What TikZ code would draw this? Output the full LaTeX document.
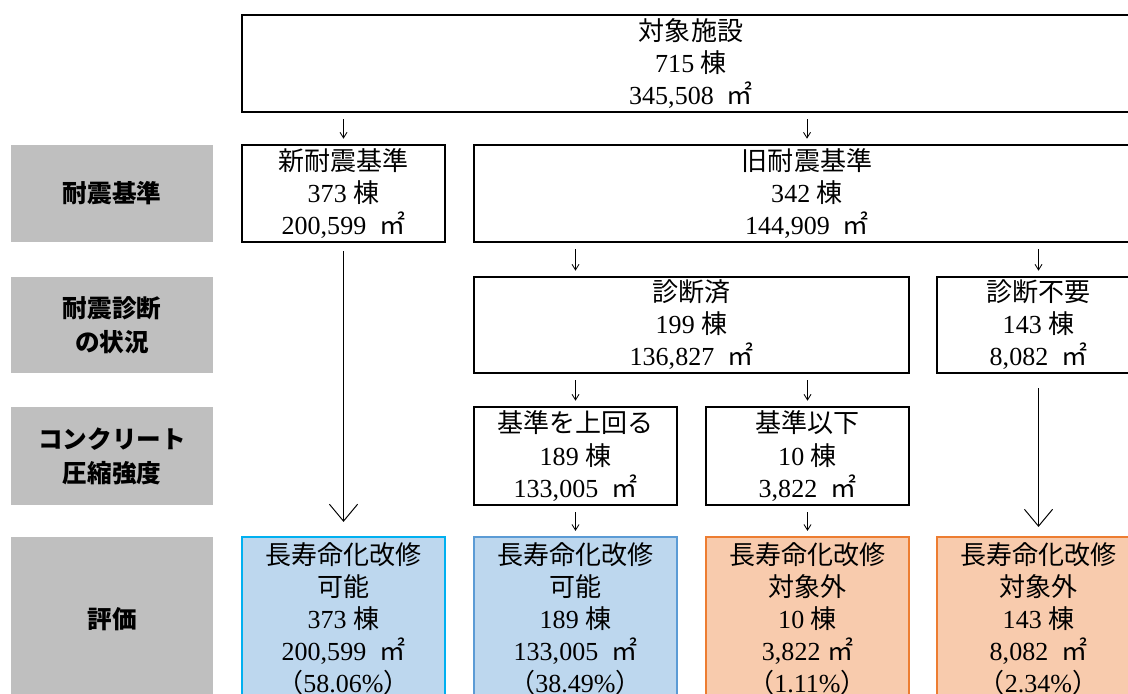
\documentclass[tikz,border=0pt]{standalone}
\usepackage{fontspec}
\setmainfont{Liberation Serif}
\newfontfamily\jpfont{Noto Sans CJK JP}
\newcommand\ja[1]{{\jpfont #1}}
\usetikzlibrary{arrows.meta}
\definecolor{lblgray}{RGB}{191,191,191}
\definecolor{okfill}{RGB}{189,215,238}
\definecolor{okline}{RGB}{0,176,240}
\definecolor{okline2}{RGB}{91,155,213}
\definecolor{ngfill}{RGB}{248,203,173}
\definecolor{ngline}{RGB}{237,125,49}

\begin{document}
\begin{tikzpicture}[x=0.025cm,y=-0.025cm,
    box/.style={draw,line width=1.8pt,align=center,inner sep=0pt,
        font=\fontsize{18.5}{22.8}\selectfont},
    lbl/.style={fill=lblgray,align=center,inner sep=0pt,
        font=\jpfont\bfseries\fontsize{17.5}{24}\selectfont},
    okbox/.style={box,line width=1.5pt,fill=okfill},
    ngbox/.style={box,line width=1.5pt,draw=ngline,fill=ngfill},
    wd/.style={minimum width=#1*0.025cm},
    ht/.style={minimum height=#1*0.025cm},
    sarrow/.style={-{Straight Barb[length=4pt,width=5pt]},line width=0.6pt,
        shorten <=4.3pt,shorten >=3.6pt},
    larrow/.style={-{Straight Barb[length=12pt,width=20pt]},line width=0.7pt}]
            \useasboundingbox (0,0) rectangle (1128,693);
            \clip (0,0) rectangle (1128,693);
            \node[box,wd=898,ht=97] (top) at (691,63.5) {\ja{対象施設}\\715 \ja{棟}\\345,508\ \ \ja{㎡}};
            \node[lbl,wd=202,ht=97] (lkijun) at (112,193.5) {耐震基準};
            \node[box,wd=203,ht=97] (shin) at (343.5,193.5) {\ja{新耐震基準}\\373 \ja{棟}\\200,599\ \ \ja{㎡}};
            \node[box,wd=666,ht=97] (kyu) at (807,193.5) {\ja{旧耐震基準}\\342 \ja{棟}\\144,909\ \ \ja{㎡}};
            \node[lbl,wd=202,ht=96] (lshindan) at (112,325) {耐震診断\\の状況};
            \node[box,wd=435,ht=96] (zumi) at (691.5,325) {\ja{診断済}\\199 \ja{棟}\\136,827\ \ \ja{㎡}};
            \node[box,wd=203,ht=96] (fuyo) at (1038.5,325) {\ja{診断不要}\\143 \ja{棟}\\8,082\ \ \ja{㎡}};
            \node[lbl,wd=202,ht=98] (lconc) at (112,456) {コンクリート\\圧縮強度};
            \node[box,wd=203,ht=98] (uwa) at (575.5,456) {\ja{基準を上回る}\\189 \ja{棟}\\133,005\ \ \ja{㎡}};
            \node[box,wd=203,ht=98] (ika) at (807.5,456) {\ja{基準以下}\\10 \ja{棟}\\3,822\ \ \ja{㎡}};
            \node[lbl,wd=202,ht=164] (lhyoka) at (112,619) {評価};
            \node[okbox,draw=okline,wd=203,ht=164] (ok1) at (343.5,619) {\ja{長寿命化改修}\\\ja{可能}\\373 \ja{棟}\\200,599\ \ \ja{㎡}\\\ja{（}58.06\%\ja{）}};
            \node[okbox,draw=okline2,wd=203,ht=164] (ok2) at (575.5,619) {\ja{長寿命化改修}\\\ja{可能}\\189 \ja{棟}\\133,005\ \ \ja{㎡}\\\ja{（}38.49\%\ja{）}};
            \node[ngbox,wd=203,ht=164] (ng1) at (807.5,619) {\ja{長寿命化改修}\\\ja{対象外}\\10 \ja{棟}\\3,822 \ja{㎡}\\\ja{（}1.11\%\ja{）}};
            \node[ngbox,wd=203,ht=164] (ng2) at (1038.5,619) {\ja{長寿命化改修}\\\ja{対象外}\\143 \ja{棟}\\8,082\ \ \ja{㎡}\\\ja{（}2.34\%\ja{）}};
            \draw[sarrow] (top.south -| shin.north) -- (shin.north);
            \draw[sarrow] (top.south -| kyu.north) -- (kyu.north);
            \draw[sarrow] (kyu.south -| uwa.north) -- (zumi.north -| uwa.north);
            \draw[sarrow] (kyu.south -| fuyo.north) -- (fuyo.north);
            \draw[sarrow] (zumi.south -| uwa.north) -- (uwa.north);
            \draw[sarrow] (zumi.south -| ika.north) -- (ika.north);
            \draw[sarrow] (uwa.south) -- (ok2.north);
            \draw[sarrow] (ika.south) -- (ng1.north);
            \draw[larrow,shorten <=5.7pt,shorten >=10pt] (shin.south) -- (ok1.north);
            \draw[larrow,shorten <=10pt,shorten >=6.4pt] (fuyo.south) -- (ng2.north);
        \end{tikzpicture}
\end{document}
